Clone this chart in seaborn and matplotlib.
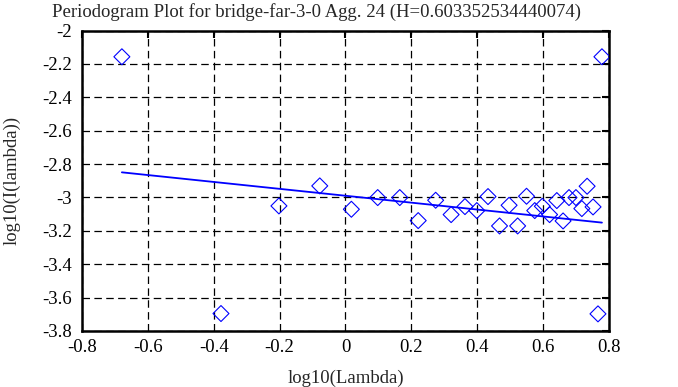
import numpy as np
import pandas as pd
import matplotlib
matplotlib.use("Agg")
import matplotlib.pyplot as plt
import seaborn as sns

title = "Periodogram Plot for bridge-far-3-0 Agg. 24 (H=0.603352534440074)"

log_lambda = [-0.679, 0.779, -0.378, 0.767, -0.202, -0.078, 0.018,
              0.098, 0.165, 0.221, 0.274, 0.321, 0.363, 0.399, 0.433,
              0.468, 0.497, 0.523, 0.550, 0.575, 0.598, 0.620, 0.642,
              0.661, 0.679, 0.700, 0.718, 0.734, 0.752]
log_I = [-2.157, -2.157, -3.696, -3.698, -3.051, -2.931, -3.071,
         -3.001, -3.001, -3.139, -3.017, -3.103, -3.055, -3.079, -2.995,
         -3.171, -3.047, -3.171, -2.993, -3.079, -3.053, -3.103, -3.019,
         -3.141, -3.001, -3.001, -3.067, -2.933, -3.057]

# fitted line: slope = 1 - 2H
fit_slope = -0.2067
fit_intercept = -2.990

x_ticks = [-0.8, -0.6, -0.4, -0.2, 0, 0.2, 0.4, 0.6, 0.8]
x_labels = ["-0.8", "-0.6", "-0.4", "-0.2", "0", "0.2", "0.4", "0.6", "0.8"]
y_ticks = [-3.8, -3.6, -3.4, -3.2, -3, -2.8, -2.6, -2.4, -2.2, -2]
y_labels = ["-3.8", "-3.6", "-3.4", "-3.2", "-3", "-2.8", "-2.6", "-2.4", "-2.2", "-2"]

df = pd.DataFrame({"x": log_lambda, "y": log_I})
xs = np.array([min(log_lambda), max(log_lambda)])
fit = pd.DataFrame({"x": xs, "y": fit_intercept + fit_slope * xs})

sns.set_style("white")
plt.rcParams["font.family"] = ["Liberation Serif", "DejaVu Serif"]
plt.rcParams["axes.unicode_minus"] = False

fs = 13.5
fig = plt.figure(figsize=(6.78, 3.87), dpi=100)
ax = fig.add_axes([0.121, 0.145, 0.777, 0.776])

sns.lineplot(data=fit, x="x", y="y", ax=ax, color="#0000ff", linewidth=1.3)
sns.scatterplot(data=df, x="x", y="y", ax=ax, marker="D", s=66,
                facecolor="none", edgecolor="#0000ff", linewidth=0.8, zorder=3)

ax.set_xlim(-0.8, 0.8)
ax.set_ylim(-3.8, -2)
ax.set_xticks(x_ticks)
ax.set_xticklabels(x_labels)
ax.set_yticks(y_ticks)
ax.set_yticklabels(y_labels)
ax.grid(True, color="black", linestyle=(0, (6, 3.5)), linewidth=0.9)
ax.tick_params(direction="in", length=5, width=1.5, top=True, right=True,
               labelsize=fs, colors="black")
ax.tick_params(axis="y", pad=7)
ax.tick_params(axis="x", pad=6)
for sp in ax.spines.values():
    sp.set_visible(True)
    sp.set_color("black")
    sp.set_linewidth(1.8)

ax.set_xlabel("log10(Lambda)", fontsize=fs)
ax.set_ylabel("log10(I(lambda))", fontsize=fs)
ax.xaxis.set_label_coords(0.5, -0.128)
ax.yaxis.set_label_coords(-0.117, 0.5)
fig.text(316 / 678, 1 - 17 / 387, title, fontsize=fs, ha="center", va="baseline")

fig.savefig("out.png", dpi=100)
